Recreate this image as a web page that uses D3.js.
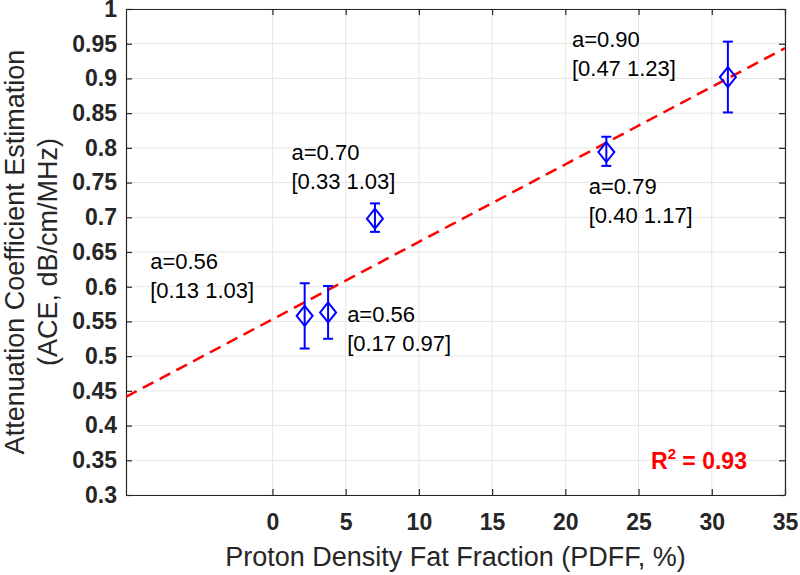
<!DOCTYPE html>
<html>
<head>
<meta charset="utf-8">
<script src="https://cdn.jsdelivr.net/npm/d3@7"></script>
<style>
  body { margin: 0; background: #fff; }
  svg { display: block; font-family: "Liberation Sans", Arial, Helvetica, sans-serif; }
</style>
</head>
<body>
<svg></svg>
<script>
// chart data
const pdff = [2.2, 3.8, 7.0, 22.8, 31.1]
const ace = [0.558, 0.563, 0.698, 0.794, 0.902]
const errLow = [0.511, 0.525, 0.679, 0.774, 0.851]
const errHigh = [0.605, 0.601, 0.720, 0.816, 0.953]

const labelA = ['a=0.56', 'a=0.56', 'a=0.70', 'a=0.79', 'a=0.90']
const labelCI = ['[0.13 1.03]', '[0.17 0.97]', '[0.33 1.03]', '[0.40 1.17]', '[0.47 1.23]']
// where each annotation sits, in data units
const labelPdff = [-8.35, 5.1, 1.3, 21.6, 20.45]
const labelAce = [0.626, 0.549, 0.782, 0.734, 0.945]

const fitIntercept = 0.553
const fitSlope = 0.01116
const rSquared = '0.93'

const xTicks = [0, 5, 10, 15, 20, 25, 30, 35]
const yTicks = [0.3, 0.35, 0.4, 0.45, 0.5, 0.55, 0.6, 0.65, 0.7, 0.75, 0.8, 0.85, 0.9, 0.95, 1]

const xTitle = 'Proton Density Fat Fraction (PDFF, %)'
const yTitle = ['Attenuation Coefficient Estimation', '(ACE, dB/cm/MHz)']

let width = 800
let height = 575
let pLeft = 126, pRight = 785, pTop = 9, pBottom = 495

let svg = d3.select('svg').attr('width', width).attr('height', height)

let xScale = d3.scaleLinear().domain([-10, 35]).range([pLeft, pRight])
let yScale = d3.scaleLinear().domain([0.3, 1]).range([pBottom, pTop])

const axisColor = '#262626'

// grid
svg.append('g').selectAll('line').data(xTicks).enter().append('line')
    .attr('x1', d => xScale(d)).attr('x2', d => xScale(d))
    .attr('y1', pTop).attr('y2', pBottom)
    .attr('stroke', '#e6e6e6').attr('stroke-width', 1)
svg.append('g').selectAll('line').data(yTicks).enter().append('line')
    .attr('x1', pLeft).attr('x2', pRight)
    .attr('y1', d => yScale(d)).attr('y2', d => yScale(d))
    .attr('stroke', '#e6e6e6').attr('stroke-width', 1)

// axes (inner ticks on all sides, MATLAB box style)
let xAxis = d3.axisBottom(xScale).tickValues(xTicks).tickSizeInner(-6).tickSizeOuter(0).tickPadding(19).tickFormat(d3.format('d'))
let yAxis = d3.axisLeft(yScale).tickValues(yTicks).tickSizeInner(-6).tickSizeOuter(0).tickPadding(9).tickFormat(d => String(+d.toFixed(2)))
let xTop = d3.axisTop(xScale).tickValues(xTicks).tickSizeInner(-6).tickSizeOuter(0).tickFormat('')
let yRight = d3.axisRight(yScale).tickValues(yTicks).tickSizeInner(-6).tickSizeOuter(0).tickFormat('')

let gx = svg.append('g').attr('transform', 'translate(0,' + pBottom + ')').call(xAxis)
let gy = svg.append('g').attr('transform', 'translate(' + pLeft + ',0)').call(yAxis)
let gt = svg.append('g').attr('transform', 'translate(0,' + pTop + ')').call(xTop)
let gr = svg.append('g').attr('transform', 'translate(' + pRight + ',0)').call(yRight)

;[gx, gy, gt, gr].forEach(g => {
    g.selectAll('path').attr('stroke', axisColor).attr('stroke-width', 1.2)
    g.selectAll('line').attr('stroke', axisColor).attr('stroke-width', 1.2)
    g.selectAll('text').attr('fill', axisColor).style('font-size', '23px').style('font-weight', 'bold')
})

// axis titles
svg.append('text').attr('x', (pLeft + pRight) / 2).attr('y', 566)
    .attr('text-anchor', 'middle').attr('fill', axisColor)
    .style('font-size', '27px').text(xTitle)
yTitle.forEach((t, i) => {
    svg.append('text')
        .attr('transform', 'translate(' + (24 + i * 33) + ',' + ((pTop + pBottom) / 2) + ') rotate(-90)')
        .attr('text-anchor', 'middle').attr('fill', axisColor)
        .style('font-size', '27px').text(t)
})

// fit line
svg.append('clipPath').attr('id', 'plotclip').append('rect')
    .attr('x', pLeft).attr('y', pTop).attr('width', pRight - pLeft).attr('height', pBottom - pTop)
let fitX = xScale.domain()
svg.append('line')
    .attr('clip-path', 'url(#plotclip)')
    .attr('x1', xScale(fitX[0])).attr('y1', yScale(fitIntercept + fitSlope * fitX[0]))
    .attr('x2', xScale(fitX[1])).attr('y2', yScale(fitIntercept + fitSlope * fitX[1]))
    .attr('stroke', '#ff0000').attr('stroke-width', 2.5).attr('stroke-dasharray', '12,7')

// error bars + diamonds
const blue = '#0000ff'
let pts = svg.append('g').selectAll('g').data(pdff).enter().append('g')
pts.append('line')
    .attr('x1', d => xScale(d)).attr('x2', d => xScale(d))
    .attr('y1', (d, i) => yScale(errLow[i])).attr('y2', (d, i) => yScale(errHigh[i]))
    .attr('stroke', blue).attr('stroke-width', 2)
pts.append('line')
    .attr('x1', d => xScale(d) - 5).attr('x2', d => xScale(d) + 5)
    .attr('y1', (d, i) => yScale(errLow[i])).attr('y2', (d, i) => yScale(errLow[i]))
    .attr('stroke', blue).attr('stroke-width', 2)
pts.append('line')
    .attr('x1', d => xScale(d) - 5).attr('x2', d => xScale(d) + 5)
    .attr('y1', (d, i) => yScale(errHigh[i])).attr('y2', (d, i) => yScale(errHigh[i]))
    .attr('stroke', blue).attr('stroke-width', 2)
pts.append('path')
    .attr('d', (d, i) => {
        let cx = xScale(d), cy = yScale(ace[i])
        return 'M' + cx + ',' + (cy - 10) + 'L' + (cx + 8) + ',' + cy + 'L' + cx + ',' + (cy + 10) + 'L' + (cx - 8) + ',' + cy + 'Z'
    })
    .attr('fill', 'none').attr('stroke', blue).attr('stroke-width', 2)

// annotations
labelA.forEach((t, i) => {
    let g = svg.append('text').attr('fill', '#000').style('font-size', '22px')
    g.append('tspan').attr('x', xScale(labelPdff[i])).attr('y', yScale(labelAce[i])).text(t)
    g.append('tspan').attr('x', xScale(labelPdff[i])).attr('dy', 29).text(labelCI[i])
})

// R squared
let r2 = svg.append('text').attr('x', 651).attr('y', 469)
    .attr('fill', '#ff0000').style('font-size', '23px').style('font-weight', 'bold')
r2.append('tspan').text('R')
r2.append('tspan').attr('dy', -10).style('font-size', '15px').text('2')
r2.append('tspan').attr('dy', 10).text(' = ' + rSquared)
</script>
</body>
</html>
